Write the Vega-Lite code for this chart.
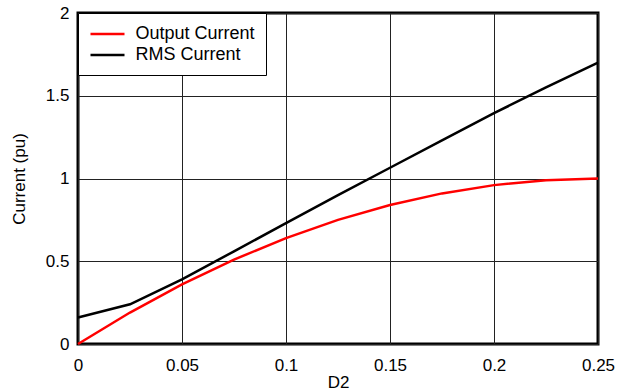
{
  "$schema": "https://vega.github.io/schema/vega-lite/v6.json",
  "width": 520,
  "height": 331,
  "autosize": "none",
  "padding": {"left": 78, "top": 13, "right": 20, "bottom": 47},
  "background": "white",
  "config": {
    "font": "Liberation Sans",
    "view": {"stroke": "black", "strokeWidth": 3},
    "axis": {
      "domain": false,
      "ticks": false,
      "grid": true,
      "gridColor": "#222",
      "gridWidth": 1,
      "gridOpacity": 1,
      "labelFont": "Liberation Sans",
      "labelFontSize": 17,
      "labelColor": "black",
      "titleFont": "Liberation Sans",
      "titleFontSize": 17,
      "titleFontWeight": "normal",
      "titleColor": "black"
    }
  },
  "data": {
    "values": [
      {"duty": 0, "current": 0, "series": "Output Current"},
      {"duty": 0.025, "current": 0.19, "series": "Output Current"},
      {"duty": 0.05, "current": 0.36, "series": "Output Current"},
      {"duty": 0.075, "current": 0.51, "series": "Output Current"},
      {"duty": 0.1, "current": 0.64, "series": "Output Current"},
      {"duty": 0.125, "current": 0.75, "series": "Output Current"},
      {"duty": 0.15, "current": 0.84, "series": "Output Current"},
      {"duty": 0.175, "current": 0.91, "series": "Output Current"},
      {"duty": 0.2, "current": 0.96, "series": "Output Current"},
      {"duty": 0.225, "current": 0.99, "series": "Output Current"},
      {"duty": 0.25, "current": 1.0, "series": "Output Current"},
      {"duty": 0, "current": 0.16, "series": "RMS Current"},
      {"duty": 0.025, "current": 0.24, "series": "RMS Current"},
      {"duty": 0.05, "current": 0.39, "series": "RMS Current"},
      {"duty": 0.075, "current": 0.56, "series": "RMS Current"},
      {"duty": 0.1, "current": 0.73, "series": "RMS Current"},
      {"duty": 0.125, "current": 0.9, "series": "RMS Current"},
      {"duty": 0.15, "current": 1.065, "series": "RMS Current"},
      {"duty": 0.175, "current": 1.23, "series": "RMS Current"},
      {"duty": 0.2, "current": 1.395, "series": "RMS Current"},
      {"duty": 0.225, "current": 1.55, "series": "RMS Current"},
      {"duty": 0.25, "current": 1.7, "series": "RMS Current"}
    ]
  },
  "mark": {"type": "line", "strokeWidth": 2.5},
  "encoding": {
    "x": {
      "field": "duty",
      "type": "quantitative",
      "title": "D2",
      "scale": {"domain": [0, 0.25], "nice": false},
      "axis": {"values": [0, 0.05, 0.1, 0.15, 0.2, 0.25], "format": "~g", "labelPadding": 13, "titlePadding": 1, "labelFlush": false}
    },
    "y": {
      "field": "current",
      "type": "quantitative",
      "title": "Current (pu)",
      "scale": {"domain": [0, 2], "nice": false},
      "axis": {"values": [0, 0.5, 1, 1.5, 2], "format": "~g", "labelPadding": 9, "titlePadding": 17, "labelFlush": false}
    },
    "color": {
      "field": "series",
      "type": "nominal",
      "scale": {"domain": ["Output Current", "RMS Current"], "range": ["#ff0000", "#000000"]},
      "legend": {
        "title": null,
        "orient": "none",
        "legendX": 0,
        "legendY": 0,
        "symbolType": "M-2,0H2",
        "symbolSize": 289,
        "symbolOffset": 8.5,
        "symbolStrokeWidth": 2.5,
        "labelFontSize": 18,
        "labelFont": "Liberation Sans",
        "labelColor": "black",
        "labelOffset": 18,
        "rowPadding": 2,
        "padding": 11,
        "strokeColor": "black",
        "fillColor": "white"
      }
    }
  }
}
